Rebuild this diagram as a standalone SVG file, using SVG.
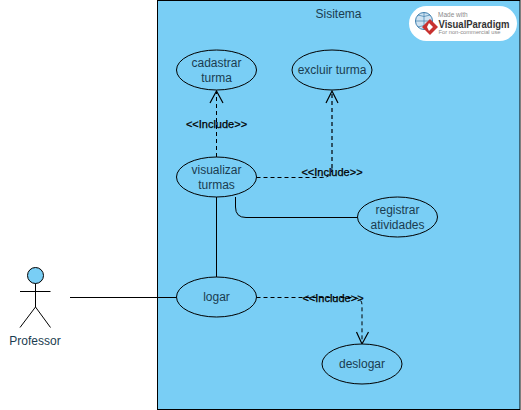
<svg xmlns="http://www.w3.org/2000/svg" width="521" height="410" viewBox="0 0 521 410">
<style>
text{font-family:"Liberation Sans",Arial,sans-serif;font-size:12px;fill:#1a3c50;text-anchor:middle}
.uc{fill:#79cef5;stroke:#000;stroke-width:1}
.ln{fill:none;stroke:#000;stroke-width:1}
.dash{fill:none;stroke:#000;stroke-width:1;stroke-dasharray:4 3}
.head{fill:none;stroke:#000;stroke-width:1.200}
.inc{font-size:11px;fill:#000;stroke:#000;stroke-width:0.250}
</style>
<rect width="521" height="410" fill="#fff"/>
<g id="sistema">
<rect x="157.500" y="0.500" width="362.500" height="409" fill="#79cef5" stroke="#000"/>
<text x="338.500" y="18">Sisitema</text>
</g>
<g id="connectors">
<path class="ln" d="M70 297.500H176.500"/>
<path class="ln" d="M216.500 197V277"/>
<path class="ln" d="M235.500 197V207Q235.500 217.500 246 217.500H357.500"/>
<path class="dash" d="M216.500 157V91"/>
<path class="head" d="M210 103L216.500 91L223 103"/>
<path class="dash" d="M256.500 177.500H322Q332 177.500 332 168"/>
<path class="dash" style="stroke-width:1.600;stroke:#1c3340" d="M332 168V92"/>
<path class="head" d="M326 103L332 91L338 103"/>
<path class="dash" d="M256.500 297.500H352Q362 297.500 362 305V343"/>
<path class="head" d="M356.500 332L362 344L368.500 332"/>
<text class="inc" x="216.500" y="128">&lt;&lt;Include&gt;&gt;</text>
<text class="inc" x="332" y="176">&lt;&lt;Include&gt;&gt;</text>
<text class="inc" x="333" y="302">&lt;&lt;Include&gt;&gt;</text>
</g>
<g id="professor">
<circle cx="35.500" cy="275.500" r="8" fill="#79cef5" stroke="#000"/>
<path class="ln" d="M35.500 283.500V307M20 291.500H50.500M20 327.500L35.500 307L50.500 327.500"/>
<text x="35" y="344.500">Professor</text>
</g>
<g id="cadastrar"><ellipse class="uc" cx="216.500" cy="70" rx="40" ry="20"/><text x="216.500" y="67">cadastrar</text><text x="216.500" y="82">turma</text></g>
<g id="excluir"><ellipse class="uc" cx="332" cy="70" rx="40" ry="20"/><text x="332" y="74">excluir turma</text></g>
<g id="visualizar"><ellipse class="uc" cx="216.500" cy="177" rx="40" ry="20"/><text x="216.500" y="174">visualizar</text><text x="216.500" y="189">turmas</text></g>
<g id="registrar"><ellipse class="uc" cx="397.500" cy="217" rx="40" ry="20"/><text x="397.500" y="214">registrar</text><text x="397.500" y="229">atividades</text></g>
<g id="logar"><ellipse class="uc" cx="216.500" cy="297" rx="40" ry="20"/><text x="216.500" y="301">logar</text></g>
<g id="deslogar"><ellipse class="uc" cx="362" cy="364" rx="40" ry="20"/><text x="362" y="368">deslogar</text></g>
<g id="watermark">
<rect x="409" y="6" width="108" height="35" rx="17.500" fill="#fff"/>
<circle cx="424" cy="21" r="8.500" fill="#cfe3f2" stroke="#3f7fae" stroke-width="1"/>
<path d="M415.500 21H432.500M424 12.500V29.500M418 15Q424 18 430 15M418 27Q424 24 430 27" fill="none" stroke="#3f7fae" stroke-width="0.700"/>
<path d="M430 19L438 27L430 35L422 27Z" fill="#c8312f"/>
<path d="M429 23L433 27L429 31L427 27Z" fill="#fff"/>
<text x="438" y="17" style="font-size:6.500px;fill:#8a8a8a;text-anchor:start">Made with</text>
<text x="438.500" y="27.500" textLength="71" lengthAdjust="spacingAndGlyphs" style="font-size:10.500px;font-weight:bold;fill:#333;text-anchor:start">VisualParadigm</text>
<text x="438.500" y="34" textLength="62" lengthAdjust="spacingAndGlyphs" style="font-size:6px;fill:#8a8a8a;text-anchor:start">For non-commercial use</text>
</g>
</svg>
